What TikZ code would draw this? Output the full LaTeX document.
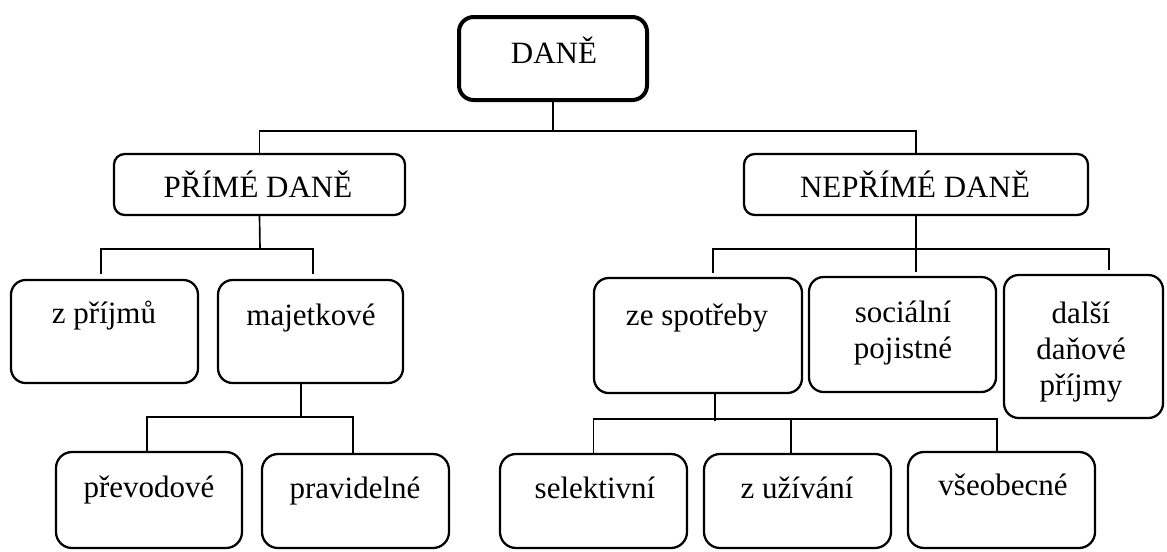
\documentclass[tikz,border=0pt]{standalone}
\usepackage{fontspec}
\setmainfont{Liberation Serif}
\usetikzlibrary{calc}
\begin{document}
\begin{tikzpicture}[x=0.75pt,y=-0.75pt,
  boxbase/.style={draw, inner sep=0pt, fill=white},
  topbox/.style={boxbase, line width=3pt, rounded corners=11pt},
  midbox/.style={boxbase, line width=1.7pt, rounded corners=8pt},
  lowbox/.style={boxbase, line width=1.7pt, rounded corners=11pt},
  botbox/.style={boxbase, line width=1.7pt, rounded corners=12pt},
  conn/.style={line width=1.25pt},
  txt/.style={anchor=base, inner sep=0pt, align=center, font=\fontsize{23.25}{27}\selectfont}]
\useasboundingbox (0,0) rectangle (1167,551);

% boxes
\node[topbox, minimum width=141pt, minimum height=62.25pt] (dane) at (553,58.5) {};
\node[midbox, minimum width=218.25pt, minimum height=45.75pt] (prime) at (259.5,184.5) {};
\node[midbox, minimum width=258pt, minimum height=45.75pt] (neprime) at (916,184.5) {};
\node[lowbox, minimum width=140.25pt, minimum height=77.25pt] (zp) at (104.5,331.5) {};
\node[lowbox, minimum width=138.75pt, minimum height=77.25pt] (maj) at (310.5,331.5) {};
\node[lowbox, minimum width=156pt, minimum height=86.25pt] (zes) at (698,335.5) {};
\node[lowbox, minimum width=140.25pt, minimum height=86.25pt] (soc) at (902.5,334.5) {};
\node[lowbox, minimum width=119.25pt, minimum height=107.25pt] (dal) at (1083.5,346.5) {};
\node[botbox, minimum width=139.5pt, minimum height=72pt] (prev) at (149,500) {};
\node[botbox, minimum width=140.25pt, minimum height=70.5pt] (prav) at (355.5,501) {};
\node[botbox, minimum width=140.25pt, minimum height=70.5pt] (sel) at (593.5,501) {};
\node[botbox, minimum width=140.25pt, minimum height=70.5pt] (uz) at (797.5,501) {};
\node[botbox, minimum width=140.25pt, minimum height=72pt] (vse) at (1001.5,500) {};

% texts
\node[txt] (tdane) at (554,63) {DANĚ};
\node[txt] (tprime) at (258,197) {PŘÍMÉ DANĚ};
\node[txt] (tneprime) at (915,197) {NEPŘÍMÉ DANĚ};
\node[txt] (tzp) at (104,323) {z příjmů};
\node[txt] (tmaj) at (311,325) {majetkové};
\node[txt] (tzes) at (697,325) {ze spotřeby};
\node[txt] (tsoc) at (903,358) {sociální\\pojistné};
\node[txt] (tdal) at (1081,395) {další\\daňové\\příjmy};
\node[txt] (tprev) at (149,497) {převodové};
\node[txt] (tprav) at (355,498) {pravidelné};
\node[txt] (tsel) at (595,498) {selektivní};
\node[txt] (tuz) at (797,498) {z užívání};
\node[txt] (tvse) at (1003,495) {všeobecné};

% level 1
\coordinate (b1) at (553,131);
\draw[conn] (dane.south) -- (b1);
\draw[conn] (prime.north) |- (b1) -| (neprime.north);

% level 2 left
\coordinate (b2) at (260,249);
\draw[conn] (prime.south) -- (b2);
\draw[conn] ($(zp.north)+(-3.5,-5)$) |- (b2) -| ($(maj.north)+(2.5,-5)$);

% level 2 right
\coordinate (b3) at (916,249);
\coordinate (s1) at ($(soc.north)+(13.5,-4)$);
\draw[conn] (neprime.south) -- (b3) -- (s1);
\draw[conn] ($(zes.north)+(15,-4)$) |- (b3) -| ($(dal.north)+(25.5,-4)$);

% level 3 left
\coordinate (b4) at (301,417);
\draw[conn] (maj.south -| b4) -- (b4);
\draw[conn] ($(prev.north)+(-2,0)$) |- (b4) -| ($(prav.north)+(-2.5,0)$);

% level 3 right
\coordinate (b5) at (715,419);
\coordinate (z1) at ($(zes.south)+(17,0)$);
\draw[conn] (z1) -- ($(b5)+(0,2)$);
\draw[conn] (sel.north) |- (b5) -| ($(vse.north)+(-4.5,0)$);
\coordinate (u1) at ($(uz.north)+(-6.5,0)$);
\draw[conn] (u1) -- (u1 |- b5);
\end{tikzpicture}
\end{document}
